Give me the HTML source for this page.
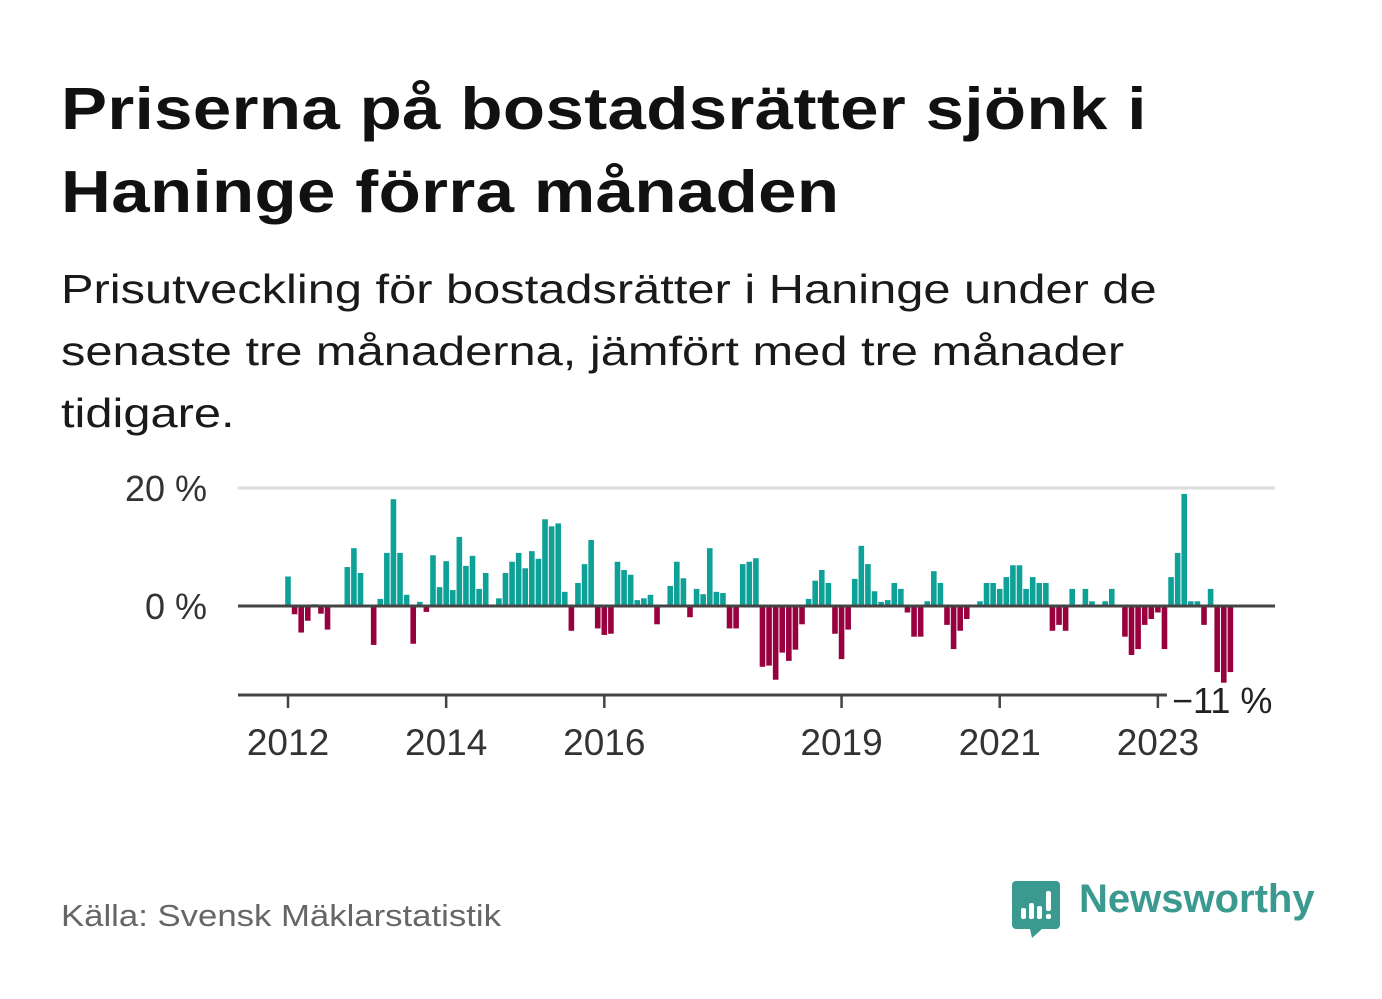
<!DOCTYPE html>
<html lang="sv">
<head>
<meta charset="utf-8">
<style>
  html,body{margin:0;padding:0;background:#fff;}
  body{width:1382px;height:999px;position:relative;overflow:hidden;font-family:"Liberation Sans",sans-serif;}
  .title{position:absolute;left:61px;top:68px;margin:0;font-size:59px;line-height:83px;font-weight:bold;color:#111;letter-spacing:0.3px;white-space:nowrap;transform:scaleX(1.17);transform-origin:0 0;}
  .sub{position:absolute;left:61px;top:258px;margin:0;font-size:41px;line-height:62px;color:#1a1a1a;white-space:nowrap;transform:scaleX(1.19);transform-origin:0 0;}
  .src{position:absolute;left:61px;top:898px;font-size:31px;color:#666;white-space:nowrap;transform:scaleX(1.12);transform-origin:0 0;}
  .logo-text{position:absolute;left:1079px;top:877px;font-size:40px;font-weight:bold;color:#3a9a90;white-space:nowrap;transform:scaleX(1.0);transform-origin:0 0;}
  svg{position:absolute;left:0;top:0;}
</style>
</head>
<body>
<h1 class="title">Priserna på bostadsrätter sjönk i<br>Haninge förra månaden</h1>
<p class="sub">Prisutveckling för bostadsrätter i Haninge under de<br>senaste tre månaderna, jämfört med tre månader<br>tidigare.</p>
<svg id="chart" width="1382" height="999"></svg>
<div class="src">Källa: Svensk Mäklarstatistik</div>
<svg width="1382" height="999" style="pointer-events:none">
  <path d="M1016 881 h40 a4 4 0 0 1 4 4 v40 a4 4 0 0 1 -4 4 h-14 l-10 9 l-2 -9 h-14 a4 4 0 0 1 -4 -4 v-40 a4 4 0 0 1 4 -4z" fill="#3a9a90"/>
  <rect x="1021" y="908" width="5" height="11" rx="2" fill="#fff"/>
  <rect x="1029" y="903" width="5" height="16" rx="2" fill="#fff"/>
  <rect x="1037" y="906" width="5" height="13" rx="2" fill="#fff"/>
  <rect x="1046" y="891" width="5" height="20" rx="2" fill="#fff"/>
  <rect x="1046" y="914" width="5" height="5" rx="2" fill="#fff"/>
</svg>
<div class="logo-text">Newsworthy</div>
<script>
const values = [5,-1.4,-4.5,-2.5,0.3,-1.3,-4,0,0,6.6,9.8,5.6,0,-6.6,1.2,9,18.1,9,1.9,-6.4,0.7,-1,8.6,3.2,7.6,2.7,11.7,6.8,8.5,2.9,5.6,0,1.3,5.6,7.5,9,6.4,9.3,8,14.7,13.5,14,2.4,-4.2,3.9,7.1,11.2,-3.8,-4.9,-4.7,7.5,6.1,5.3,1,1.3,1.9,-3.1,0,3.4,7.5,4.7,-1.9,2.9,2,9.8,2.4,2.2,-3.8,-3.8,7.1,7.5,8.1,-10.3,-10.1,-12.5,-7.9,-9.3,-7.4,-3.1,1.2,4.3,6.1,3.9,-4.7,-9,-4,4.6,10.2,7.1,2.5,0.7,1,3.9,2.9,-1.1,-5.2,-5.2,0.8,5.9,3.9,-3.2,-7.3,-4.2,-2.2,0,0.8,3.9,3.9,2.9,4.9,6.9,6.9,2.9,4.9,3.9,3.9,-4.2,-3.2,-4.2,2.9,0,2.9,0.8,0,0.8,2.9,0,-5.2,-8.3,-7.3,-3.2,-2.2,-1.1,-7.3,4.9,9,19,0.8,0.8,-3.2,2.9,-11.2,-13,-11.2];
const startYear = 2012;
const xTickYears = [2012,2014,2016,2019,2021,2023];
const yTicks = [0,20];
const yTickLabels = ["0 %","20 %"];

const NS="http://www.w3.org/2000/svg";
const svg=document.getElementById('chart');
const X0=288, MONTH=6.59;
const x = m => X0 + m*MONTH;
const xYear = y => x((y-startYear)*12);
const Y0=606, PER=5.9;
const y = v => Y0 - v*PER;
function mk(tag, attrs){const e=document.createElementNS(NS,tag);for(const k in attrs)e.setAttribute(k,attrs[k]);svg.appendChild(e);return e;}

yTicks.forEach((t,i)=>{
  if(t!==0){
    const g=mk('line',{x1:238,x2:1275,y1:y(t),y2:y(t),stroke:'#ddd','stroke-width':3});
    
    
  }
  const tx=mk('text',{x:207,y:y(t)+13,'text-anchor':'end','font-size':36,fill:'#333','font-family':'Liberation Sans, sans-serif'});
  tx.textContent=yTickLabels[i];
  
  
});

values.forEach((v,i)=>{
  if(v===0) return;
  const r=mk('rect',{x:x(i)-2.8,width:5.6,y:v>0?y(v):Y0,height:Math.abs(v)*PER,fill:v>0?'#0ea197':'#990040'});
  
  
});

const z=mk('line',{x1:238,x2:1275,y1:Y0,y2:Y0,stroke:'#444','stroke-width':3});



const ax=mk('line',{x1:238,x2:1167,y1:695,y2:695,stroke:'#444','stroke-width':3});


xTickYears.forEach(yr=>{
  const t=mk('line',{x1:xYear(yr),x2:xYear(yr),y1:695,y2:708,stroke:'#444','stroke-width':2.5});
  
  
  const l=mk('text',{x:xYear(yr),y:755,'text-anchor':'middle','font-size':37,fill:'#333','font-family':'Liberation Sans, sans-serif'});
  l.textContent=yr;
  
  
});
const mn=mk('text',{x:1172,y:713,'font-size':36,fill:'#222','font-family':'Liberation Sans, sans-serif'});
mn.textContent='−11 %';


</script>
</body>
</html>
